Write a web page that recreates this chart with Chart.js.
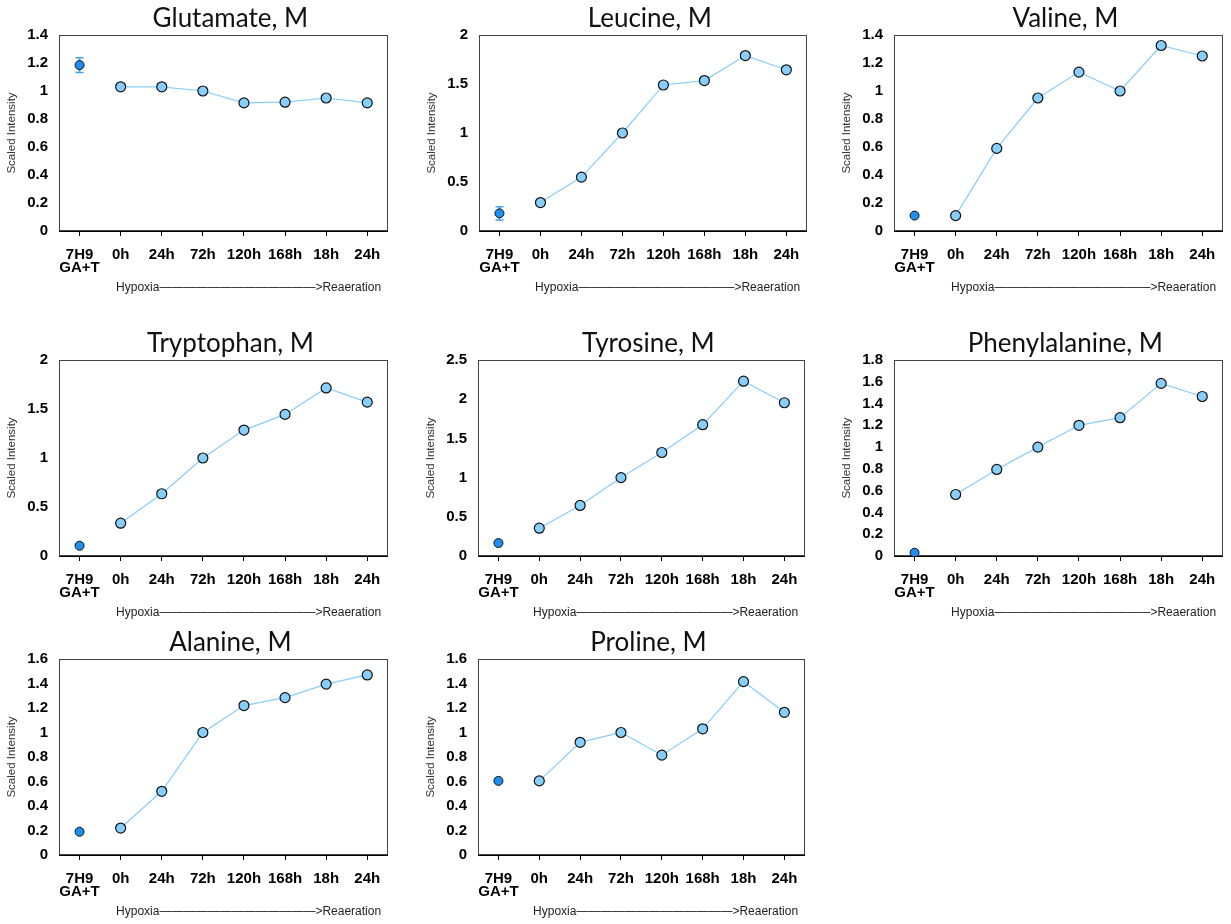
<!DOCTYPE html>
<html>
<head>
<meta charset="utf-8">
<title>Amino acids under hypoxia and reaeration</title>
<script src="https://cdn.jsdelivr.net/npm/chart.js@4.4.1/dist/chart.umd.min.js"></script>
<style>
  body { margin: 0; background: #fff; width: 1231px; height: 924px; overflow: hidden; position: relative; }
  canvas { position: absolute; }
</style>
</head>
<body>
<script>
// data
const timepoints = [['7H9', 'GA+T'], '0h', '24h', '72h', '120h', '168h', '18h', '24h'];
const metabolites = ['Glutamate, M', 'Leucine, M', 'Valine, M', 'Tryptophan, M', 'Tyrosine, M', 'Phenylalanine, M', 'Alanine, M', 'Proline, M'];

const glutamate     = [1.185, 1.03, 1.03, 1.0, 0.915, 0.92, 0.95, 0.915];
const leucine       = [0.18, 0.29, 0.55, 1.0, 1.49, 1.535, 1.79, 1.645];
const valine        = [0.11, 0.11, 0.59, 0.95, 1.135, 1.0, 1.325, 1.25];
const tryptophan    = [0.105, 0.335, 0.635, 1.0, 1.285, 1.445, 1.715, 1.57];
const tyrosine      = [0.165, 0.355, 0.645, 1.0, 1.32, 1.675, 2.23, 1.955];
const phenylalanine = [0.03, 0.565, 0.795, 1.0, 1.2, 1.27, 1.585, 1.465];
const alanine       = [0.19, 0.22, 0.52, 1.0, 1.22, 1.285, 1.395, 1.47];
const proline       = [0.605, 0.605, 0.92, 1.0, 0.815, 1.03, 1.415, 1.165];

const series = [glutamate, leucine, valine, tryptophan, tyrosine, phenylalanine, alanine, proline];
const controlErr = [0.053, 0.068, 0, 0, 0, 0, 0, 0];
const yMax  = [1.4, 2, 1.4, 2, 2.5, 1.8, 1.6, 1.6];
const yStep = [0.2, 0.5, 0.2, 0.5, 0.5, 0.2, 0.2, 0.2];

const axisLabel = 'Hypoxia' + '\u2014'.repeat(13) + '>Reaeration  ';

// canvas placement: left, top, width
const panels = [
  [0, 0, 394], [420, 0, 393], [835, 0, 394],
  [0, 325, 394], [419, 325, 392], [835, 325, 394],
  [0, 624, 394], [419, 624, 392]
];

const panelTitle = {
  id: 'panelTitle',
  afterDraw(chart, args, opts) {
    const {ctx, chartArea} = chart;
    ctx.save();
    ctx.font = '26px Lato';
    ctx.fillStyle = '#111';
    ctx.textAlign = 'center';
    ctx.textBaseline = 'alphabetic';
    ctx.fillText(opts.text, (chartArea.left + chartArea.right) / 2 + 7, chartArea.top - 8.5);
    ctx.restore();
  }
};

const frame = {
  id: 'frame',
  beforeDatasetsDraw(chart) {
    const {ctx, chartArea: a} = chart;
    ctx.save();
    ctx.strokeStyle = '#444';
    ctx.lineWidth = 1;
    ctx.strokeRect(Math.round(a.left) + 0.5, Math.round(a.top) + 0.5,
                   Math.round(a.right - a.left) - 1, Math.round(a.bottom - a.top) - 1);
    ctx.restore();
  }
};

// error bar on the 7H9 control point
const errorBars = {
  id: 'errorBars',
  beforeDatasetsDraw(chart, args, opts) {
    const err = opts.err;
    if (!err) return;
    const {ctx, scales: {x, y}} = chart;
    const v = chart.data.datasets[0].data[0];
    const px = x.getPixelForValue(0);
    const top = y.getPixelForValue(v + err);
    const bot = y.getPixelForValue(v - err);
    ctx.save();
    ctx.strokeStyle = '#3fa5f5';
    ctx.lineWidth = 1.5;
    ctx.beginPath();
    ctx.moveTo(px, top); ctx.lineTo(px, bot);
    ctx.moveTo(px - 4, top); ctx.lineTo(px + 4, top);
    ctx.moveTo(px - 4, bot); ctx.lineTo(px + 4, bot);
    ctx.stroke();
    ctx.restore();
  }
};

const tickFont = { family: 'Liberation Sans, Arial, sans-serif', size: 15, weight: 'bold', lineHeight: 0.87 };

series.forEach(function(values, i) {
  const [left, top, width] = panels[i];
  const canvas = document.createElement('canvas');
  canvas.width = width;
  canvas.height = 295;
  canvas.style.left = left + 'px';
  canvas.style.top = top + 'px';
  document.body.appendChild(canvas);

  new Chart(canvas.getContext('2d'), {
    type: 'line',
    data: {
      labels: timepoints,
      datasets: [{
        data: values.map((v, k) => k === 0 ? v : null),
        showLine: false,
        pointRadius: 4.5,
        pointBackgroundColor: '#1e8ef0',
        pointBorderColor: '#111',
        pointBorderWidth: 1
      }, {
        data: values.map((v, k) => k === 0 ? null : v),
        borderColor: '#87cefa',
        borderWidth: 1.2,
        pointRadius: 5,
        pointBackgroundColor: '#87cefa',
        pointBorderColor: '#111',
        pointBorderWidth: 1.2
      }]
    },
    options: {
      responsive: false,
      animation: false,
      layout: { padding: { left: 0, right: 1, top: 35, bottom: 0 } },
      plugins: {
        legend: { display: false },
        tooltip: { enabled: false },
        title: { display: false },
        panelTitle: { text: metabolites[i] },
        errorBars: { err: controlErr[i] }
      },
      scales: {
        x: {
          offset: true,
          grid: { offset: false, drawOnChartArea: false, tickLength: 5, color: '#000' },
          border: { color: '#000', width: 1 },
          ticks: { color: '#000', font: tickFont, padding: 12.5, maxRotation: 0, autoSkip: false },
          title: {
            display: true, text: axisLabel, align: 'end', color: '#222', padding: 0,
            font: { family: 'Liberation Sans, Arial, sans-serif', size: 12 }
          },
          afterFit: s => { s.height = 64; }
        },
        y: {
          min: 0,
          max: yMax[i],
          grid: { display: false, drawTicks: false },
          border: { color: '#000', width: 1 },
          ticks: {
            stepSize: yStep[i], padding: 11, color: '#000', font: tickFont,
            callback: v => String(+v.toFixed(2))
          },
          title: {
            display: true, text: 'Scaled Intensity', color: '#333', padding: { top: 5, bottom: 0 },
            font: { family: 'Liberation Sans, Arial, sans-serif', size: 11.5 }
          },
          afterFit: s => { s.width = 59; }
        }
      }
    },
    plugins: [panelTitle, frame, errorBars]
  });
});
</script>
</body>
</html>
